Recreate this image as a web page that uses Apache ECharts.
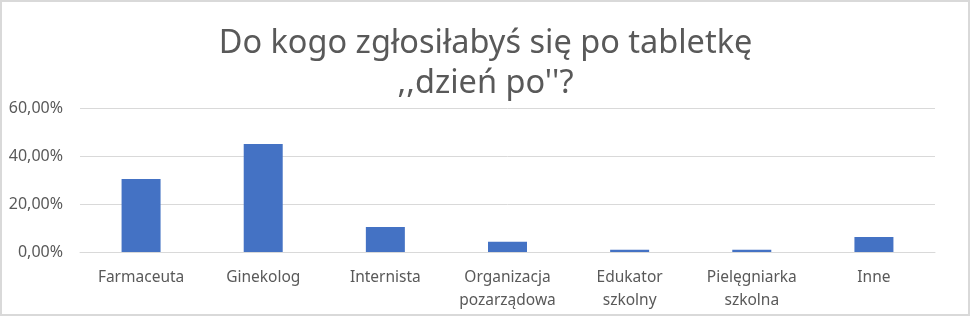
<!DOCTYPE html>
<html>
<head>
<meta charset="utf-8">
<script src="https://cdn.jsdelivr.net/npm/echarts@6/dist/echarts.min.js"></script>
<style>
html,body{margin:0;padding:0;background:#fff;}
#c{width:971px;height:317px;}
</style>
</head>
<body>
<div id="c"></div>
<script>
const titleText = "Do kogo zgłosiłabyś się po tabletkę\n,,dzień po''?";
const categories = ["Farmaceuta", "Ginekolog", "Internista", "Organizacja\npozarządowa", "Edukator\nszkolny", "Pielęgniarka\nszkolna", "Inne"];
const values = [30.4, 45.0, 10.4, 4.3, 0.9, 0.9, 6.3];
const yTicks = { min: 0, max: 60, interval: 20 };

const chart = echarts.init(document.getElementById('c'), null, { renderer: 'canvas' });
chart.setOption({
  backgroundColor: '#ffffff',
  animation: false,
  title: {
    text: titleText,
    left: 'center',
    top: 19,
    textStyle: {
      fontFamily: 'Noto Sans',
      fontSize: 32.5,
      fontWeight: 'normal',
      color: '#595959',
      lineHeight: 40
    }
  },
  graphic: [{
    type: 'rect',
    shape: { x: 1, y: 1, width: 968, height: 314 },
    style: { fill: 'none', stroke: '#d9d9d9', lineWidth: 2 },
    silent: true,
    z: 100
  }],
  grid: { left: 80, right: 36, top: 108, bottom: 65 },
  xAxis: {
    type: 'category',
    data: categories,
    axisLine: { show: true, lineStyle: { color: '#d9d9d9', width: 1 } },
    axisTick: { show: false },
    axisLabel: {
      interval: 0,
      margin: 14,
      fontFamily: 'Noto Sans',
      fontSize: 15.5,
      color: '#595959',
      lineHeight: 23
    }
  },
  yAxis: {
    type: 'value',
    min: yTicks.min,
    max: yTicks.max,
    interval: yTicks.interval,
    axisLine: { show: false },
    axisTick: { show: false },
    splitLine: { lineStyle: { color: '#d9d9d9', width: 1 } },
    axisLabel: {
      margin: 17,
      fontFamily: 'Noto Sans',
      fontSize: 16,
      color: '#595959',
      formatter: v => v.toFixed(2).replace('.', ',') + '%'
    }
  },
  series: [{
    type: 'bar',
    data: values,
    barWidth: 39,
    itemStyle: { color: '#4472c4' }
  }]
});
</script>
</body>
</html>
